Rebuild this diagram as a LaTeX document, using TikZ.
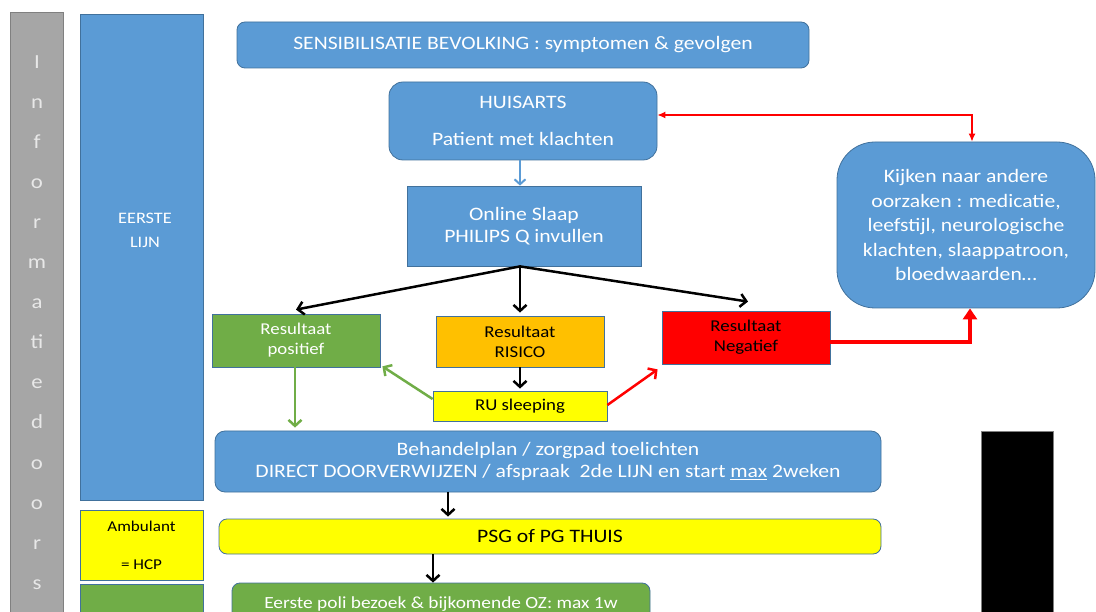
\documentclass[tikz,border=0pt]{standalone}
\usepackage{fontspec}
\setmainfont[FakeStretch=1.14]{Carlito}
\usetikzlibrary{arrows.meta}
\definecolor{bfill}{RGB}{91,155,213}
\definecolor{bdraw}{RGB}{65,113,156}
\definecolor{gfill}{RGB}{112,173,71}
\definecolor{yfill}{RGB}{255,255,0}
\definecolor{ofill}{RGB}{255,192,0}
\definecolor{rfill}{RGB}{255,0,0}
\definecolor{greyfill}{RGB}{166,166,166}
\definecolor{greydraw}{RGB}{128,128,128}
\definecolor{lettercol}{RGB}{232,232,232}
\newcommand\fsz[2]{\fontsize{#1}{#2}\selectfont}
\begin{document}
\begin{tikzpicture}[x=1pt,y=-1pt,
  base/.style={draw=bdraw, line width=0.8pt, inner sep=0pt, align=center},
  bluebox/.style={base, fill=bfill, text=white},
  greenbox/.style={base, fill=gfill, text=white},
  yellowbox/.style={base, fill=yfill, text=black},
  orangebox/.style={base, fill=ofill, text=black},
  redbox/.style={base, fill=rfill, text=black},
  sz/.style 2 args={minimum width=#1pt, minimum height=#2pt},
  barb/.style={-{Straight Barb[length=6pt,width=13pt]}, line width=2.5pt},
  blk/.style={barb, draw=black},
  grn/.style={barb, draw=gfill},
  redarr/.style={barb, draw=rfill},
  bluearr/.style={-{Straight Barb[length=5pt,width=11pt]}, line width=2pt, draw=bfill},
  thickred/.style={-{Triangle[length=11pt,width=14pt]}, line width=4pt, draw=rfill},
  thinred/.style={{Latex[length=8pt,width=7pt]}-{Latex[length=8pt,width=7pt]}, line width=1.3pt, draw=rfill},
  letter/.style={text=lettercol, font=\fsz{20}{24}, anchor=base, inner sep=0pt}
]
\useasboundingbox (0,0) rectangle (1096,612);

% left column
\node[draw=greydraw, fill=greyfill, line width=0.8pt, sz={53}{610}] (info) at (36.5,317) {};
\foreach \t [count=\i from 0] in {I,n,f,o,r,m,a,ti,e,d,o,o,r,s,t}
  \node[letter] (l\i) at (37,69+40*\i) {\t};

\node[bluebox, sz={123}{486}] (eerste) at (141.5,257) {};
\node[text=white, align=center, font=\fsz{16}{24}, inner sep=0pt] (eerstetxt) at (145,230) {EERSTE\\LIJN};
\node[yellowbox, sz={123}{70}, font=\fsz{15}{38}] (amb) at (141.5,545) {Ambulant\\= HCP};
\node[greenbox, sz={123}{45}] (groen) at (141.5,607) {};

% main flow
\node[bluebox, sz={572}{46}, rounded corners=8pt, font=\fsz{19}{23}] (sens) at (523,45) {SENSIBILISATIE BEVOLKING : symptomen \& gevolgen};
\node[bluebox, sz={268}{78}, rounded corners=14pt, font=\fsz{19}{37}] (huis) at (523,121) {HUISARTS\\Patient met klachten};
\node[bluebox, sz={234}{80}, font=\fsz{19}{22}] (slaap) at (524,226) {Online Slaap\\PHILIPS Q invullen};

\node[greenbox, sz={168}{53}, font=\fsz{16.5}{20}] (pos) at (296,340.5) {Resultaat\\positief};
\node[orangebox, sz={168}{51}, font=\fsz{16.5}{20}] (ris) at (520,341.5) {Resultaat\\RISICO};
\node[redbox, sz={168}{53}, font=\fsz{16.5}{20}] (neg) at (746,337.5) {Resultaat\\Negatief};
\node[yellowbox, sz={174}{30}, font=\fsz{16.5}{20}] (ru) at (520,406) {RU sleeping};

\node[bluebox, sz={258}{166}, rounded corners=38pt, font=\fsz{19}{24.5}] (kijk) at (966,225) {Kijken naar andere\\oorzaken : medicatie,\\leefstijl, neurologische\\klachten, slaappatroon,\\bloedwaarden\dots};

\node[bluebox, sz={666}{61}, rounded corners=10pt, font=\fsz{19}{22}] (beh) at (548,461.5) {Behandelplan / zorgpad toelichten\\DIRECT DOORVERWIJZEN / afspraak\ \ 2de LIJN en start \underline{max} 2weken};
\node[yellowbox, sz={662}{35}, rounded corners=8pt, font=\fsz{19}{22}] (psg) at (550,536.5) {PSG of PG THUIS};
\node[greenbox, sz={418}{42}, rounded corners=8pt, font=\fsz{17}{20}] (poli) at (441,604) {Eerste poli bezoek \& bijkomende OZ: max 1w};

\node[draw=greydraw, fill=black, line width=0.8pt, sz={72}{189}] (zwart) at (1017,525.5) {};

% connectors
\draw[bluearr] ([xshift=-3pt]huis.south) -- ([xshift=-3pt]huis.south |- slaap.north);
\draw[blk] ([xshift=-4pt]slaap.south) -- ([yshift=4pt]pos.north);
\draw[blk] ([xshift=-4pt]slaap.south) -- ([yshift=3pt]ris.north);
\draw[blk] ([xshift=-4pt]slaap.south) -- ([xshift=2pt,yshift=9pt]neg.north);
\draw[blk] (ris.south) -- ([yshift=2pt]ru.north);
\draw[grn] ([yshift=7pt]ru.west) -- ([xshift=2pt,yshift=1pt]pos.south east);
\draw[redarr] ([yshift=1pt]ru.east) -- ([xshift=-4pt,yshift=-5pt]neg.south west);
\draw[grn] ([xshift=-1pt]pos.south) -- ([xshift=-1pt,yshift=3pt]pos.south |- beh.north);
\draw[thickred] ([yshift=-5pt]neg.east) -| ([xshift=4pt]kijk.south);
\draw[thinred] ([yshift=6pt]huis.east) -| ([xshift=6pt]kijk.north);
\draw[blk] ([xshift=-100pt]beh.south) -- ([xshift=-100pt,yshift=2pt]beh.south |- psg.north);
\draw[blk] ([xshift=-8pt]poli.north |- psg.south) -- ([xshift=-8pt]poli.north);
\end{tikzpicture}
\end{document}
